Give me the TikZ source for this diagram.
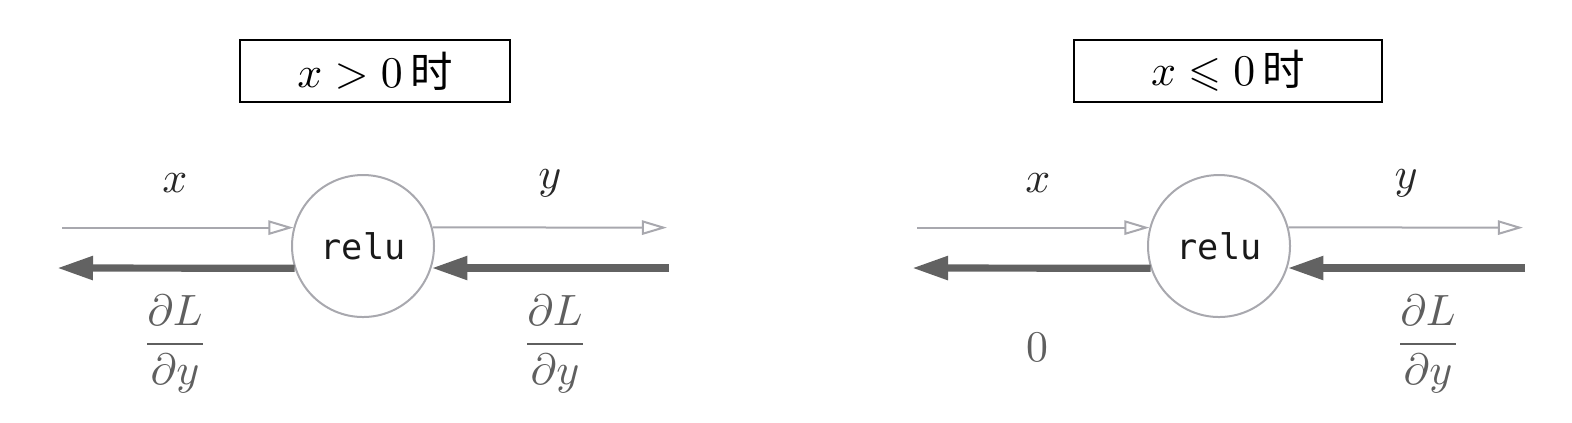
\documentclass[tikz,border=0pt]{standalone}
\usepackage{amssymb}
\usepackage{fontspec}
\newfontfamily\cjk{Noto Sans CJK SC}
\newfontfamily\monofnt{DejaVu Sans Mono}
\usetikzlibrary{arrows.meta}
\definecolor{thin}{RGB}{168,168,174}
\definecolor{thick}{RGB}{98,98,98}
\definecolor{lab}{RGB}{40,40,40}
\definecolor{glab}{RGB}{95,95,95}
\begin{document}
\begin{tikzpicture}[x=0.25pt,y=-0.25pt,
  every node/.style={font=\fontsize{10.6}{12}\selectfont},
  condbox/.style={draw=black,line width=0.6pt,inner sep=0pt,minimum height=15.5pt},
  relunode/.style={draw=thin,line width=0.5pt,circle,minimum size=35.5pt,inner sep=0pt,font=\fontsize{8.8}{10}\monofnt,text=black!90},
  fwd/.style={draw=thin,line width=0.5pt,-{Triangle[open,length=6.3pt,width=3.6pt]}},
  bwd/.style={draw=thick,line width=1.8pt,-{Triangle[length=9pt,width=5.6pt]}},
  varlab/.style={text=lab},
  gradlab/.style={text=glab}]
\useasboundingbox (0,0) rectangle (1572,422);
% left panel
\node[condbox,minimum width=67.5pt] (b1) at (375,71) {$x>0\,${\cjk 时}};
\node[relunode] (c1) at (363,246) {relu};
\coordinate (i1) at (62,227.6);
\coordinate (o1) at (667,227.6);
\coordinate (g1) at (669,268);
\coordinate (h1) at (57,268);
\draw[fwd] (i1) -- (i1 -| c1.165);
\draw[fwd] (c1.15) -- (o1);
\draw[bwd] (g1) -- (g1 -| c1.-18);
\draw[bwd] (c1.198) -- (h1);
\node[varlab] (x1) at (175,183) {$x$};
\node[varlab] (y1) at (550,183) {$y$};
\node[gradlab] (d1) at (175,344) {$\displaystyle\frac{\partial L}{\partial y}$};
\node[gradlab] (d2) at (555,344) {$\displaystyle\frac{\partial L}{\partial y}$};
% right panel
\node[condbox,minimum width=77pt] (b2) at (1228,71) {$x\leqslant 0\,${\cjk 时}};
\node[relunode] (c2) at (1219,246) {relu};
\coordinate (i2) at (917,227.6);
\coordinate (o2) at (1523,227.6);
\coordinate (g2) at (1525,268);
\coordinate (h2) at (912,268);
\draw[fwd] (i2) -- (i2 -| c2.165);
\draw[fwd] (c2.15) -- (o2);
\draw[bwd] (g2) -- (g2 -| c2.-18);
\draw[bwd] (c2.198) -- (h2);
\node[varlab] (x2) at (1038,183) {$x$};
\node[varlab] (y2) at (1406,183) {$y$};
\node[gradlab] (z2) at (1037,347) {$0$};
\node[gradlab] (d3) at (1428,344) {$\displaystyle\frac{\partial L}{\partial y}$};
\end{tikzpicture}
\end{document}
